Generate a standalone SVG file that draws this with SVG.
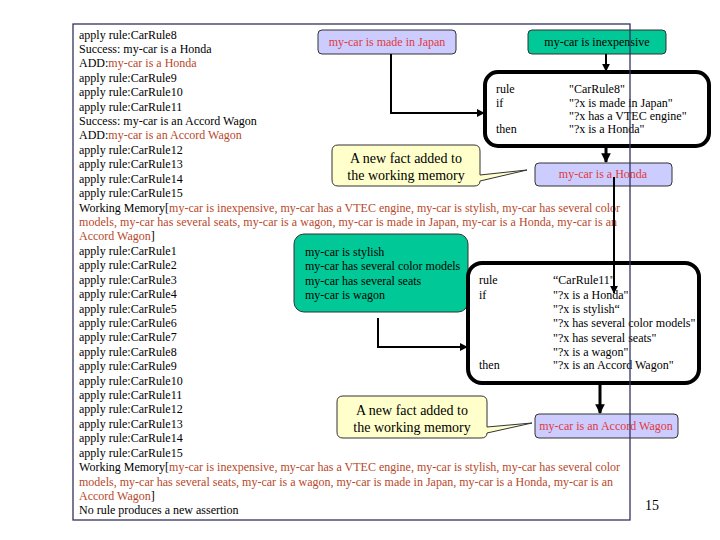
<svg xmlns="http://www.w3.org/2000/svg" width="720" height="540" viewBox="0 0 720 540">
<style>
text{font-family:"Liberation Serif","Times New Roman",serif;fill:#000}
.log{font-size:12px}
.br{fill:#B8482A}
.rt{font-size:12px}
.fact{font-size:12px;fill:#E03A3A}
.call{font-size:14px}
.lav{fill:#CCCCFF;stroke:#333;stroke-width:1}
.grn{fill:#00C896;stroke:#333;stroke-width:1}
.rule{fill:#fff;stroke:#000;stroke-width:4}
.cl{fill:#FFFFCC;stroke:#333;stroke-width:1}
.con{fill:none;stroke:#000;stroke-width:2}
.thk{fill:none;stroke:#000;stroke-width:3}
</style>
<defs>
<marker id="ah" viewBox="0 0 10 10" refX="9" refY="5" markerWidth="4" markerHeight="4" orient="auto" markerUnits="strokeWidth">
<path d="M0,0 L10,5 L0,10 Z" fill="#000"/>
</marker>
<marker id="ah2" viewBox="0 0 10 10" refX="9" refY="5" markerWidth="3.2" markerHeight="3.2" orient="auto" markerUnits="strokeWidth">
<path d="M0,0 L10,5 L0,10 Z" fill="#000"/>
</marker>
</defs>
<rect width="720" height="540" fill="#fff"/>

<g id="log">
<text class="log" x="79" y="38.5">apply rule:CarRule8</text>
<text class="log" x="79" y="52.9">Success: my-car is a Honda</text>
<text class="log" x="79" y="67.3">ADD:<tspan class="br">my-car is a Honda</tspan></text>
<text class="log" x="79" y="81.8">apply rule:CarRule9</text>
<text class="log" x="79" y="96.2">apply rule:CarRule10</text>
<text class="log" x="79" y="110.6">apply rule:CarRule11</text>
<text class="log" x="79" y="125">Success: my-car is an Accord Wagon</text>
<text class="log" x="79" y="139.4">ADD:<tspan class="br">my-car is an Accord Wagon</tspan></text>
<text class="log" x="79" y="153.9">apply rule:CarRule12</text>
<text class="log" x="79" y="168.3">apply rule:CarRule13</text>
<text class="log" x="79" y="182.7">apply rule:CarRule14</text>
<text class="log" x="79" y="197.1">apply rule:CarRule15</text>
<text class="log" x="79" y="211.5" textLength="541">Working Memory[<tspan class="br">my-car is inexpensive, my-car has a VTEC engine, my-car is stylish, my-car has several color</tspan></text>
<text class="log br" x="79" y="226" textLength="538">models, my-car has several seats, my-car is a wagon, my-car is made in Japan, my-car is a Honda, my-car is an</text>
<text class="log" x="79" y="240.4"><tspan class="br">Accord Wagon</tspan>]</text>
<text class="log" x="79" y="254.8">apply rule:CarRule1</text>
<text class="log" x="79" y="269.2">apply rule:CarRule2</text>
<text class="log" x="79" y="283.6">apply rule:CarRule3</text>
<text class="log" x="79" y="298.1">apply rule:CarRule4</text>
<text class="log" x="79" y="312.5">apply rule:CarRule5</text>
<text class="log" x="79" y="326.9">apply rule:CarRule6</text>
<text class="log" x="79" y="341.3">apply rule:CarRule7</text>
<text class="log" x="79" y="355.7">apply rule:CarRule8</text>
<text class="log" x="79" y="370.2">apply rule:CarRule9</text>
<text class="log" x="79" y="384.6">apply rule:CarRule10</text>
<text class="log" x="79" y="399">apply rule:CarRule11</text>
<text class="log" x="79" y="413.4">apply rule:CarRule12</text>
<text class="log" x="79" y="427.8">apply rule:CarRule13</text>
<text class="log" x="79" y="442.3">apply rule:CarRule14</text>
<text class="log" x="79" y="456.7">apply rule:CarRule15</text>
<text class="log" x="79" y="471.1" textLength="541">Working Memory[<tspan class="br">my-car is inexpensive, my-car has a VTEC engine, my-car is stylish, my-car has several color</tspan></text>
<text class="log br" x="79" y="485.5" textLength="534">models, my-car has several seats, my-car is a wagon, my-car is made in Japan, my-car is a Honda, my-car is an</text>
<text class="log" x="79" y="499.9"><tspan class="br">Accord Wagon</tspan>]</text>
<text class="log" x="79" y="514.4">No rule produces a new assertion</text>
</g>

<g id="fact-japan">
<rect class="lav" x="318" y="30" width="138" height="24" rx="4"/>
<text class="fact" x="387" y="46" text-anchor="middle">my-car is made in Japan</text>
</g>
<g id="fact-inexpensive">
<rect class="grn" x="528" y="30" width="138" height="24" rx="4"/>
<text class="rt" x="597" y="46" text-anchor="middle">my-car is inexpensive</text>
</g>
<g id="rule8">
<rect class="rule" x="485" y="72" width="224" height="74" rx="13"/>
<text class="rt" x="496" y="93">rule</text>
<text class="rt" x="496" y="107">if</text>
<text class="rt" x="496" y="133">then</text>
<text class="rt" x="569" y="93">"CarRule8"</text>
<text class="rt" x="569" y="107">"?x is made in Japan"</text>
<text class="rt" x="569" y="120">"?x has a VTEC engine"</text>
<text class="rt" x="569" y="133">"?x is a Honda"</text>
</g>
<g id="callout1">
<path class="cl" d="M338,145 H474 Q480,145 480,151 V175 L527,170 L480,181 Q480,186 474,186 H338 Q332,186 332,180 V151 Q332,145 338,145 Z"/>
<text class="call" x="406" y="163" text-anchor="middle">A new fact added to</text>
<text class="call" x="406" y="180" text-anchor="middle">the working memory</text>
</g>
<g id="fact-honda">
<rect class="lav" x="535" y="163" width="137" height="23" rx="4"/>
<text class="fact" x="603" y="178" text-anchor="middle">my-car is a Honda</text>
</g>
<g id="facts-stylish">
<rect class="grn" x="294" y="234" width="174" height="78" rx="10"/>
<text class="rt" x="305" y="256">my-car is stylish</text>
<text class="rt" x="305" y="270">my-car has several color models</text>
<text class="rt" x="305" y="285">my-car has several seats</text>
<text class="rt" x="305" y="299">my-car is wagon</text>
</g>
<g id="rule11">
<rect class="rule" x="468" y="263" width="231" height="120" rx="14"/>
<text class="rt" x="479" y="284">rule</text>
<text class="rt" x="479" y="299">if</text>
<text class="rt" x="479" y="369">then</text>
<text class="rt" x="553" y="284">“CarRule11"</text>
<text class="rt" x="553" y="299">"?x is a Honda"</text>
<text class="rt" x="553" y="313">"?x is stylish“</text>
<text class="rt" x="553" y="327">"?x has several color models"</text>
<text class="rt" x="553" y="342">"?x has several seats"</text>
<text class="rt" x="553" y="356">"?x is a wagon"</text>
<text class="rt" x="553" y="369">"?x is an Accord Wagon"</text>
</g>
<g id="callout2">
<path class="cl" d="M343,396 H481 Q487,396 487,402 V427 L532,423 L487,433 Q487,438 481,438 H343 Q337,438 337,432 V402 Q337,396 343,396 Z"/>
<text class="call" x="412" y="415" text-anchor="middle">A new fact added to</text>
<text class="call" x="412" y="432" text-anchor="middle">the working memory</text>
</g>
<g id="fact-accord">
<rect class="lav" x="535" y="414" width="143" height="24" rx="4"/>
<text class="fact" x="606" y="430" text-anchor="middle">my-car is an Accord Wagon</text>
</g>

<g id="connectors">
<path class="con" d="M391,54 V113 H484" marker-end="url(#ah)"/>
<path class="con" d="M606,54 V71" marker-end="url(#ah)"/>
<path class="thk" d="M606,147 V162" marker-end="url(#ah2)"/>
<path class="con" d="M614,177 V293" marker-end="url(#ah)"/>
<path class="con" d="M378,318 V347 H467" marker-end="url(#ah)"/>
<path class="thk" d="M600,385 V413" marker-end="url(#ah2)"/>
</g>

<rect x="73" y="24" width="557" height="496" fill="none" stroke="#33335F" stroke-width="1.3"/>
<text x="652" y="510" font-size="14" text-anchor="middle">15</text>
</svg>
